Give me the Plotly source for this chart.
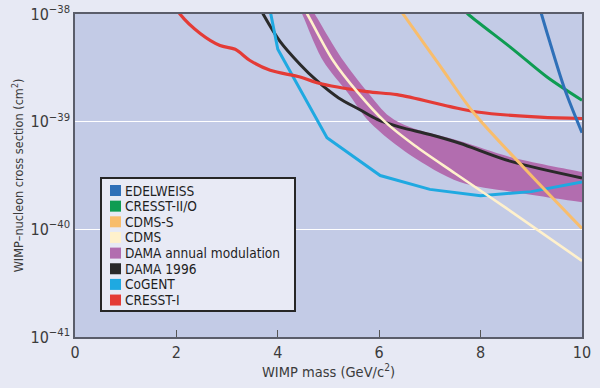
import plotly.graph_objects as go

# ---------------- data ----------------
edelweiss_x = [9.12, 9.2, 9.37, 9.66, 10.0]
edelweiss_y = [1.35e-38, 1.0e-38, 5.4e-39, 2.0e-39, 7.9e-40]

cresst2_x = [7.6, 7.75, 8.64, 9.31, 10.0]
cresst2_y = [1.17e-38, 1.0e-38, 4.7e-39, 2.6e-39, 1.58e-39]

cdmss_x = [6.3, 6.47, 7.2, 7.85, 8.84, 10.0]
cdmss_y = [1.3e-38, 1.0e-38, 3.3e-39, 1.23e-39, 3.8e-40, 1.02e-40]

cdms_x = [4.45, 4.58, 5.09, 5.58, 6.11, 6.7, 7.5, 8.5, 10.0]
cdms_y = [1.26e-38, 1.0e-38, 3.7e-39, 1.86e-39, 1.0e-39, 6.0e-40, 3.3e-40, 1.58e-40, 5.1e-41]

# DAMA annual modulation region: lower-left and upper-right boundaries
dama_lo_x = [4.38, 4.48, 4.89, 5.38, 5.82, 6.61, 7.59, 8.58, 10.0, 10.3]
dama_lo_y = [1.26e-38, 1.0e-38, 3.7e-39, 1.86e-39, 9.8e-40, 4.9e-40, 2.75e-40, 2.24e-40, 1.78e-40, 1.7e-40]
dama_hi_x = [4.6, 4.73, 5.29, 5.78, 6.2, 6.6, 7.59, 8.58, 10.0, 10.3]
dama_hi_y = [1.26e-38, 1.0e-38, 3.7e-39, 1.86e-39, 1.12e-39, 8.9e-40, 6.6e-40, 4.7e-40, 3.4e-40, 3.16e-40]

dama96_x = [3.6, 3.71, 4.04, 4.44, 4.77, 5.2, 5.62, 5.96, 6.41, 7.0, 7.59, 8.58, 10.0]
dama96_y = [1.26e-38, 1.0e-38, 5.6e-39, 3.4e-39, 2.4e-39, 1.66e-39, 1.29e-39, 1.05e-39,
            8.9e-40, 7.6e-40, 6.3e-40, 4.3e-40, 3.0e-40]

cogent_x = [3.82, 3.86, 4.0, 4.97, 6.02, 7.0, 8.0, 9.0, 10.0]
cogent_y = [1.26e-38, 1.0e-38, 4.7e-39, 7.1e-40, 3.16e-40, 2.35e-40, 2.05e-40, 2.24e-40, 2.75e-40]

cresst1_x = [1.95, 2.07, 2.47, 2.86, 3.16, 3.45, 3.85, 4.44, 4.77, 5.76, 6.35, 7.4, 7.93, 9.17, 10.0]
cresst1_y = [1.26e-38, 1.0e-38, 6.6e-39, 5.1e-39, 4.7e-39, 3.7e-39, 3.0e-39, 2.6e-39, 2.3e-39,
             1.9e-39, 1.78e-39, 1.38e-39, 1.23e-39, 1.1e-39, 1.07e-39]

legend_names = ["EDELWEISS", "CRESST-II/O", "CDMS-S", "CDMS", "DAMA annual modulation",
                "DAMA 1996", "CoGENT", "CRESST-I"]
legend_colors = ["#2F70B8", "#0E9C52", "#F8BD6C", "#FFF1CC", "#B26DAF",
                 "#2A2A2A", "#1FA9E1", "#E43B36"]

x_ticks = [0, 2, 4, 6, 8, 10]
y_tickvals = [1e-41, 1e-40, 1e-39, 1e-38]
y_ticktext = ["10<sup>−41</sup>", "10<sup>−40</sup>", "10<sup>−39</sup>", "10<sup>−38</sup>"]

# ---------------- styling ----------------
FONT = "Liberation Sans Narrow, DejaVu Sans Condensed, Arial Narrow, Liberation Sans, sans-serif"
TEXT = "#3b3b3b"
PAPER = "#E7E9F4"
PLOT = "#C3CBE6"
W, H = 600, 388
ML, MR, MT, MB = 75, 18, 14, 51
PW, PH = W - ML - MR, H - MT - MB

col = dict(zip(legend_names, legend_colors))

fig = go.Figure()

# DAMA region (filled band)
fig.add_trace(go.Scatter(
    x=dama_lo_x + dama_hi_x[::-1], y=dama_lo_y + dama_hi_y[::-1],
    mode="lines", fill="toself", fillcolor=col["DAMA annual modulation"],
    line=dict(width=0, shape="spline", smoothing=0.9), hoverinfo="skip",
    name="DAMA annual modulation", showlegend=False))

def add_line(xs, ys, name, width, shape="spline"):
    fig.add_trace(go.Scatter(x=xs, y=ys, mode="lines", name=name, showlegend=False,
                             line=dict(color=col[name], width=width, shape=shape,
                                       smoothing=0.9 if shape == "spline" else None)))

add_line(dama96_x, dama96_y, "DAMA 1996", 3)
add_line(cogent_x, cogent_y, "CoGENT", 3, shape="linear")
add_line(cresst1_x, cresst1_y, "CRESST-I", 3.2)
add_line(cdms_x, cdms_y, "CDMS", 2.6)
add_line(cdmss_x, cdmss_y, "CDMS-S", 3)
add_line(cresst2_x, cresst2_y, "CRESST-II/O", 3)
add_line(edelweiss_x, edelweiss_y, "EDELWEISS", 3)

# ---------------- manual legend (box + squares + text) ----------------
def px(xp):
    return (xp - ML) / PW

def py(yp):
    return (H - MB - yp) / PH

shapes = [dict(type="rect", xref="paper", yref="paper",
               x0=px(101), x1=px(295), y0=py(311), y1=py(178),
               fillcolor="#E8EAF5", line=dict(color="#262626", width=2), layer="above")]
annotations = []
y0, step = 190.5, 15.65
for i, (nm, c) in enumerate(zip(legend_names, legend_colors)):
    yc = y0 + i * step
    shapes.append(dict(type="rect", xref="paper", yref="paper",
                       x0=px(110), x1=px(121), y0=py(yc + 5.5), y1=py(yc - 5.5),
                       fillcolor=c, line=dict(width=0), layer="above"))
    annotations.append(dict(text=nm, xref="paper", yref="paper", x=px(123), y=py(yc),
                            xanchor="left", yanchor="middle", showarrow=False,
                            font=dict(family=FONT, size=13.6, color="#1e1e1e")))

fig.update_layout(
    width=W, height=H,
    margin=dict(l=ML, r=MR, t=MT, b=MB, autoexpand=False),
    paper_bgcolor=PAPER, plot_bgcolor=PLOT,
    font=dict(family=FONT, color=TEXT, size=14),
    shapes=shapes, annotations=annotations, showlegend=False,
    xaxis=dict(range=[0, 10], tickvals=x_ticks, ticks="inside", ticklen=7, tickwidth=1,
               tickcolor="#555", showgrid=False, zeroline=False,
               showline=True, linecolor="#5a5d6a", linewidth=1.5, mirror=True,
               tickfont=dict(size=16, color=TEXT),
               title=dict(text="WIMP mass (GeV/c<sup>2</sup>)", font=dict(size=14.5, color=TEXT),
                          standoff=4)),
    yaxis=dict(type="log", range=[-41, -38], tickvals=y_tickvals, ticktext=y_ticktext,
               ticks="", showgrid=True, gridcolor="#FFFFFF", gridwidth=1, zeroline=False,
               showline=True, linecolor="#5a5d6a", linewidth=1.5, mirror=True,
               tickfont=dict(size=16, color=TEXT),
               title=dict(text="WIMP–nucleon cross section (cm<sup>2</sup>)",
                          font=dict(size=12.6, color=TEXT), standoff=4)),
)

fig.write_html("out.html", config={"displayModeBar": False},
               post_script="document.body.style.margin='0';")
